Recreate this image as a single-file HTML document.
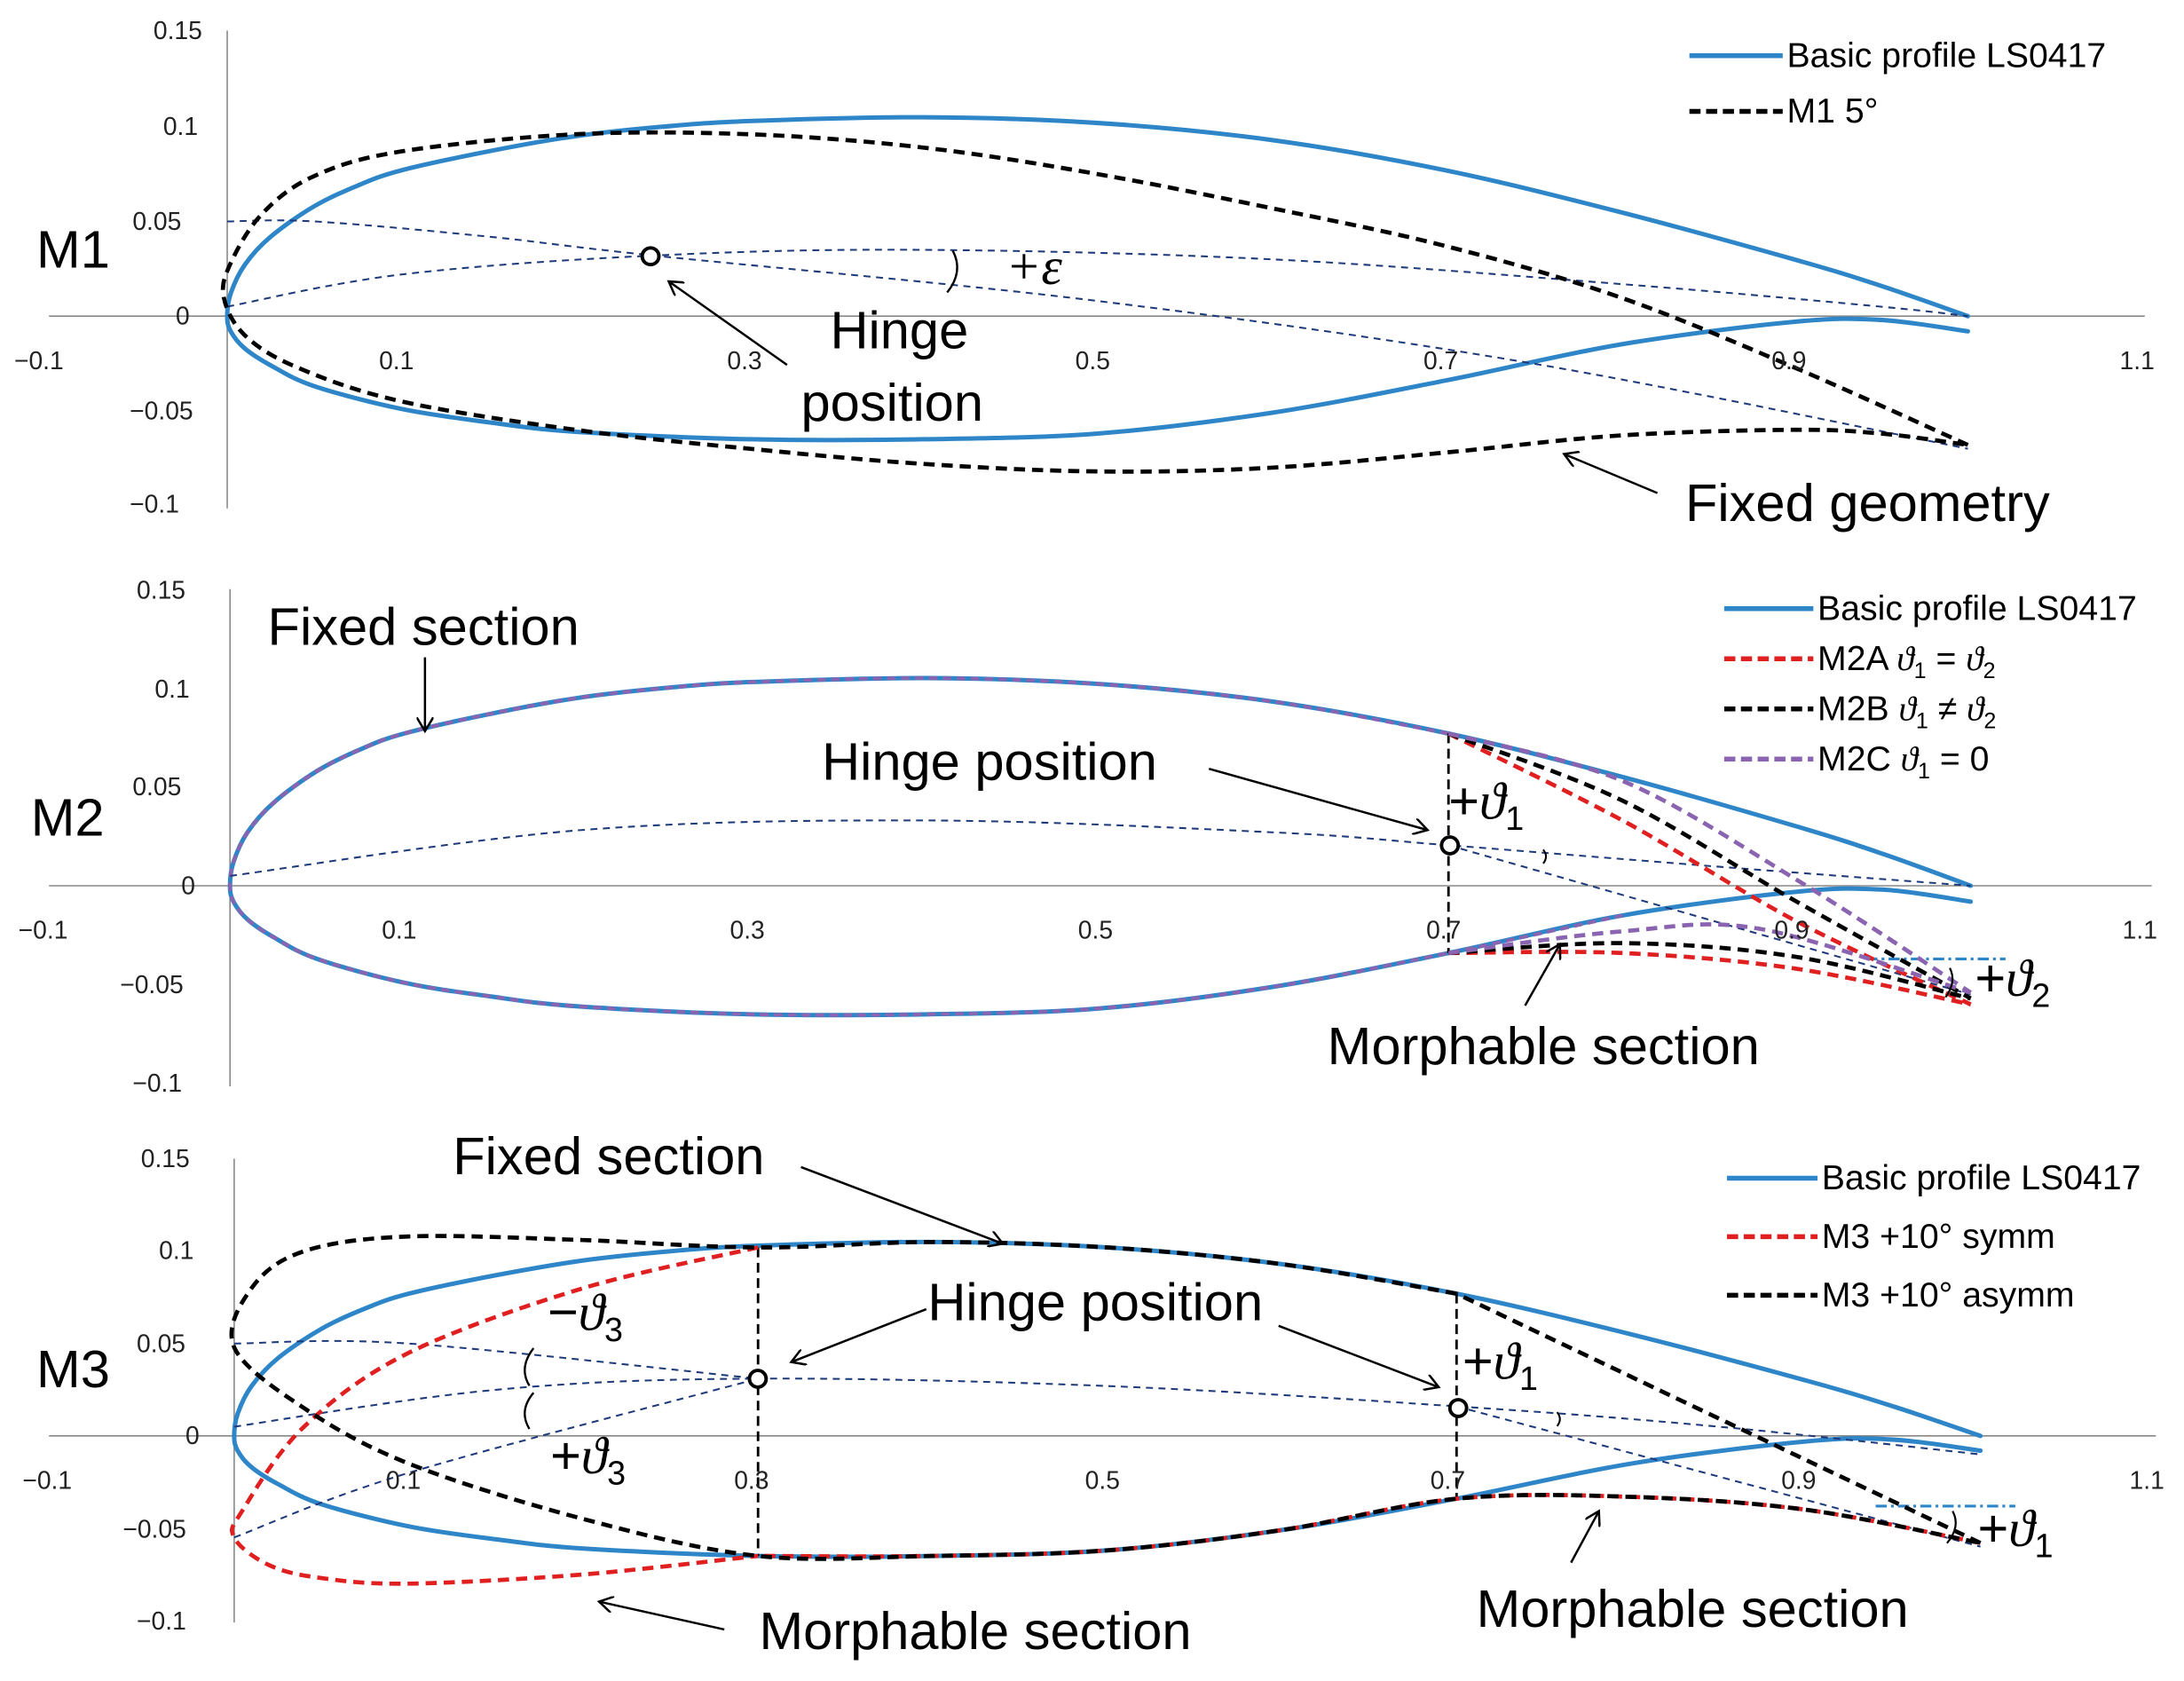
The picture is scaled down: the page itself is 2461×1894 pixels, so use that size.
<!DOCTYPE html>
<html><head><meta charset="utf-8"><style>
html,body{margin:0;padding:0;background:#fff;}
svg{display:block;}
text{font-family:"Liberation Sans",sans-serif;fill:#000;}
.t{font-size:18px;fill:#222;}
.b{font-size:38px;}
.l{font-size:25px;}
.m{font-family:"Liberation Serif",serif;font-style:italic;}
</style></head><body>
<svg id="s" width="2461" height="1894" viewBox="0 0 1568 1207" xmlns="http://www.w3.org/2000/svg">
<defs><marker id="ar" markerWidth="12" markerHeight="12" refX="10" refY="6" orient="auto" markerUnits="userSpaceOnUse"><path d="M0,0 L10,6 L0,12" fill="none" stroke="#000" stroke-width="1.6"/></marker></defs>
<g id="g"></g>
<!-- Panel 1 text -->
<text class="t" x="110" y="28">0.15</text><text class="t" x="117" y="97">0.1</text><text class="t" x="95" y="165">0.05</text><text class="t" x="126" y="233">0</text><text class="t" x="93" y="301">−0.05</text><text class="t" x="93" y="368">−0.1</text>
<text class="t" x="10" y="265">−0.1</text><text class="t" x="272" y="265">0.1</text><text class="t" x="522" y="265">0.3</text><text class="t" x="772" y="265">0.5</text><text class="t" x="1022" y="265">0.7</text><text class="t" x="1272" y="265">0.9</text><text class="t" x="1522" y="265">1.1</text>
<text class="b" x="26" y="192">M1</text>
<text class="b" x="596" y="250">Hinge</text><text class="b" x="575" y="302">position</text>
<text class="b" x="1210" y="374">Fixed geometry</text>
<text class="b m" x="722" y="204">+ε</text>
<text class="l" x="1283" y="48">Basic profile LS0417</text><text class="l" x="1283" y="88">M1 5°</text>
<!-- Panel 2 text -->
<text class="t" x="98" y="430">0.15</text><text class="t" x="111" y="501">0.1</text><text class="t" x="95" y="571">0.05</text><text class="t" x="130" y="642">0</text><text class="t" x="86" y="713">−0.05</text><text class="t" x="95" y="784">−0.1</text>
<text class="t" x="13" y="674">−0.1</text><text class="t" x="274" y="674">0.1</text><text class="t" x="524" y="674">0.3</text><text class="t" x="774" y="674">0.5</text><text class="t" x="1024" y="674">0.7</text><text class="t" x="1274" y="674">0.9</text><text class="t" x="1524" y="674">1.1</text>
<text class="b" x="22" y="600">M2</text>
<text class="b" x="192" y="463">Fixed section</text>
<text class="b" x="590" y="560">Hinge position</text>
<text class="b" x="953" y="764">Morphable section</text>
<text class="b" x="1040" y="588">+<tspan class="m">ϑ</tspan><tspan font-size="24" dy="8">1</tspan></text>
<text class="b" x="1418" y="715">+<tspan class="m">ϑ</tspan><tspan font-size="24" dy="8">2</tspan></text>
<text class="l" x="1305" y="445">Basic profile LS0417</text>
<text class="l" x="1305" y="481">M2A  <tspan class="m">ϑ</tspan><tspan font-size="16" dy="6">1</tspan><tspan dy="-6"> = </tspan><tspan class="m">ϑ</tspan><tspan font-size="16" dy="6">2</tspan></text>
<text class="l" x="1305" y="517">M2B  <tspan class="m">ϑ</tspan><tspan font-size="16" dy="6">1</tspan><tspan dy="-6"> ≠ </tspan><tspan class="m">ϑ</tspan><tspan font-size="16" dy="6">2</tspan></text>
<text class="l" x="1305" y="553">M2C  <tspan class="m">ϑ</tspan><tspan font-size="16" dy="6">1</tspan><tspan dy="-6"> = 0</tspan></text>
<!-- Panel 3 text -->
<text class="t" x="101" y="838">0.15</text><text class="t" x="114" y="904">0.1</text><text class="t" x="98" y="971">0.05</text><text class="t" x="133" y="1037">0</text><text class="t" x="88" y="1104">−0.05</text><text class="t" x="98" y="1170">−0.1</text>
<text class="t" x="16" y="1069">−0.1</text><text class="t" x="277" y="1069">0.1</text><text class="t" x="527" y="1069">0.3</text><text class="t" x="779" y="1069">0.5</text><text class="t" x="1027" y="1069">0.7</text><text class="t" x="1279" y="1069">0.9</text><text class="t" x="1529" y="1069">1.1</text>
<text class="b" x="26" y="996">M3</text>
<text class="b" x="325" y="843">Fixed section</text>
<text class="b" x="666" y="948">Hinge position</text>
<text class="b" x="545" y="1184">Morphable section</text>
<text class="b" x="1060" y="1168">Morphable section</text>
<text class="b" x="393" y="955">−<tspan class="m">ϑ</tspan><tspan font-size="24" dy="8">3</tspan></text>
<text class="b" x="395" y="1058">+<tspan class="m">ϑ</tspan><tspan font-size="24" dy="8">3</tspan></text>
<text class="b" x="1050" y="990">+<tspan class="m">ϑ</tspan><tspan font-size="24" dy="8">1</tspan></text>
<text class="b" x="1420" y="1110">+<tspan class="m">ϑ</tspan><tspan font-size="24" dy="8">1</tspan></text>
<text class="l" x="1308" y="854">Basic profile LS0417</text><text class="l" x="1308" y="896">M3 +10° symm</text><text class="l" x="1308" y="938">M3 +10° asymm</text>
</svg>
<script>
var G=document.getElementById('g');var NS='http://www.w3.org/2000/svg';
function el(t,a){var e=document.createElementNS(NS,t);for(var k in a)e.setAttribute(k,a[k]);G.appendChild(e);return e;}
function cr(p){var d='M'+p[0][0].toFixed(1)+','+p[0][1].toFixed(1);for(var i=0;i<p.length-1;i++){var p0=p[i-1]||p[i],p1=p[i],p2=p[i+1],p3=p[i+2]||p2;d+=' C'+(p1[0]+(p2[0]-p0[0])/6).toFixed(1)+','+(p1[1]+(p2[1]-p0[1])/6).toFixed(1)+' '+(p2[0]-(p3[0]-p1[0])/6).toFixed(1)+','+(p2[1]-(p3[1]-p1[1])/6).toFixed(1)+' '+p2[0].toFixed(1)+','+p2[1].toFixed(1);}return d;}
var P=[{x0:163,sx:1250,y0:227,sy:1360,yt:22,yb:365,xr:1540},{x0:165,sx:1250,y0:636,sy:1420,yt:423,yb:780,xr:1545},{x0:168,sx:1254,y0:1031,sy:1326,yt:832,yb:1165,xr:1548}];
function T(k,pts){var q=P[k];return pts.map(function(a){return[q.x0+a[0]*q.sx,q.y0-a[1]*q.sy];});}
function curve(k,pts,col,w,dash){el('path',{d:cr(T(k,pts)),fill:'none',stroke:col,'stroke-width':w,'stroke-dasharray':dash||'none','stroke-linecap':dash?'butt':'round'});}
function line(k,pts,col,w,dash){var t=T(k,pts);el('polyline',{points:t.map(function(a){return a.join(',')}).join(' '),fill:'none',stroke:col,'stroke-width':w,'stroke-dasharray':dash||'none'});}
P.forEach(function(q){el('line',{x1:35,y1:q.y0,x2:q.xr,y2:q.y0,stroke:'#888','stroke-width':1});el('line',{x1:q.x0,y1:q.yt,x2:q.x0,y2:q.yb,stroke:'#888','stroke-width':1});});
var UP=[[1,0],[0.95,0.016],[0.9,0.03],[0.8,0.055],[0.7,0.077],[0.6,0.093],[0.5,0.102],[0.4,0.105],[0.3,0.103],[0.25,0.1],[0.2,0.095],[0.15,0.087],[0.1,0.077],[0.075,0.069],[0.05,0.058],[0.025,0.042],[0.01,0.027],[0.002,0.012],[0,0]];
var LO=[[0,0],[0.002,-0.008],[0.01,-0.017],[0.025,-0.026],[0.05,-0.037],[0.1,-0.049],[0.15,-0.056],[0.2,-0.061],[0.3,-0.065],[0.4,-0.065],[0.5,-0.062],[0.6,-0.051],[0.7,-0.034],[0.8,-0.015],[0.9,-0.003],[0.95,-0.002],[1,-0.008]];
var AF=UP.concat(LO.slice(1));
var NV='#1f3a7a',BL='#2e86c8',RD='#e02020',PU='#8a64b0';
var nd='5,4';
// ===== Panel 1
curve(0,AF,BL,3.2);
curve(0,[[0,0.005],[0.1,0.022],[0.245,0.032],[0.4,0.035],[0.6,0.03],[0.8,0.017],[0.95,0.005],[1.0,0]],NV,1.3,nd);
curve(0,[[0,0.05],[0.05,0.05],[0.15,0.042],[0.245,0.032],[0.5,0.008],[0.75,-0.025],[1.0,-0.07]],NV,1.3,nd);
curve(0,[[1.0,-0.068],[0.9,-0.027],[0.8,0.01],[0.7,0.037],[0.6,0.057],[0.5,0.075],[0.4,0.089],[0.3,0.096],[0.2,0.096],[0.1,0.087],[0.05,0.074],[0.02,0.054],[0.002,0.028],[-0.002,0.01],[0.01,-0.01],[0.04,-0.027],[0.1,-0.045],[0.2,-0.06],[0.3,-0.07],[0.4,-0.078],[0.5,-0.082],[0.6,-0.08],[0.7,-0.072],[0.8,-0.063],[0.9,-0.06],[0.95,-0.062],[1.0,-0.068]],'#000',3,'8,5');
el('circle',{cx:467,cy:184,r:6,fill:'#fff',stroke:'#000','stroke-width':2.5});
el('line',{x1:565,y1:262,x2:480,y2:202,stroke:'#000','stroke-width':1.6,'marker-end':'url(#ar)'});
el('line',{x1:1190,y1:354,x2:1123,y2:326,stroke:'#000','stroke-width':1.6,'marker-end':'url(#ar)'});
el('path',{d:'M684,180 Q692,195 680,210',fill:'none',stroke:'#000','stroke-width':1.5});
el('line',{x1:1213,y1:40,x2:1280,y2:40,stroke:BL,'stroke-width':3.5});
el('line',{x1:1213,y1:80,x2:1280,y2:80,stroke:'#000','stroke-width':3.5,'stroke-dasharray':'8,4'});
// ===== Panel 2
curve(1,AF,BL,3.2);
curve(1,AF.slice(4,AF.length-3),PU,2.5,'6,4');
curve(1,[[0,0.005],[0.2,0.028],[0.4,0.033],[0.6,0.027],[0.7,0.0205],[0.85,0.01],[1.0,0]],NV,1.3,nd);
line(1,[[0.7,0.0205],[1.0,-0.055]],NV,1.3,nd);
line(1,[[0.94,-0.037],[1.02,-0.037]],BL,2,'8,3,2,3');
line(1,[[0.7,0.077],[0.7,-0.034]],'#000',1.8,'7,4');
curve(1,[[0.7,0.077],[0.8,0.033],[0.9,-0.018],[1.0,-0.06]],RD,3,'8,5');
curve(1,[[0.7,-0.034],[0.8,-0.034],[0.9,-0.042],[1.0,-0.06]],RD,3,'8,5');
curve(1,[[0.7,0.077],[0.8,0.043],[0.9,-0.008],[1.0,-0.057]],'#000',3,'8,5');
curve(1,[[0.7,-0.034],[0.8,-0.029],[0.9,-0.036],[1.0,-0.057]],'#000',3,'8,5');
curve(1,[[0.7,0.077],[0.8,0.053],[0.9,0.003],[1.0,-0.054]],PU,3,'8,5');
curve(1,[[0.7,-0.034],[0.8,-0.023],[0.88,-0.022],[1.0,-0.054]],PU,3,'8,5');
el('circle',{cx:1041,cy:607,r:6,fill:'#fff',stroke:'#000','stroke-width':2.5});
el('line',{x1:868,y1:552,x2:1025,y2:596,stroke:'#000','stroke-width':1.6,'marker-end':'url(#ar)'});
el('line',{x1:305,y1:472,x2:305,y2:525,stroke:'#000','stroke-width':1.6,'marker-end':'url(#ar)'});
el('line',{x1:1095,y1:722,x2:1120,y2:678,stroke:'#000','stroke-width':1.6,'marker-end':'url(#ar)'});
el('path',{d:'M1108,610 Q1112,615 1108,620',fill:'none',stroke:'#000','stroke-width':1.3});
el('path',{d:'M1400,695 Q1405,705 1397,716',fill:'none',stroke:'#000','stroke-width':1.4});
el('line',{x1:1238,y1:437,x2:1302,y2:437,stroke:BL,'stroke-width':3.5});
el('line',{x1:1238,y1:473,x2:1302,y2:473,stroke:RD,'stroke-width':3.5,'stroke-dasharray':'8,4'});
el('line',{x1:1238,y1:509,x2:1302,y2:509,stroke:'#000','stroke-width':3.5,'stroke-dasharray':'8,4'});
el('line',{x1:1238,y1:545,x2:1302,y2:545,stroke:PU,'stroke-width':3.5,'stroke-dasharray':'8,4'});
// ===== Panel 3
curve(2,AF,BL,3.2);
curve(2,[[0,0.005],[0.15,0.025],[0.3,0.031],[0.5,0.027],[0.7,0.016],[0.85,0.005],[1.0,-0.01]],NV,1.3,nd);
line(2,[[0.7,0.016],[1.0,-0.06]],NV,1.3,nd);
curve(2,[[0,0.05],[0.1,0.05],[0.3,0.031]],NV,1.3,nd);
curve(2,[[0,-0.055],[0.1,-0.02],[0.3,0.031]],NV,1.3,nd);
line(2,[[0.94,-0.038],[1.02,-0.038]],BL,2,'8,3,2,3');
line(2,[[0.3,0.102],[0.3,-0.065]],'#000',1.8,'7,4');
line(2,[[0.7,0.077],[0.7,-0.034]],'#000',1.8,'7,4');
curve(2,[[0.3,0.102],[0.2,0.08],[0.1,0.045],[0.04,0.005],[0.005,-0.04],[0,-0.055],[0.02,-0.07],[0.05,-0.077],[0.1,-0.08],[0.2,-0.075],[0.3,-0.065]],RD,3,'8,5');
curve(2,[[1.0,-0.058],[0.9,-0.04],[0.8,-0.033],[0.7,-0.034],[0.6,-0.051],[0.5,-0.062],[0.4,-0.065],[0.3,-0.065]],RD,3,'8,5');
line(2,[[1.0,-0.058],[0.7,0.077]],'#000',3,'8,5');
curve(2,[[0.7,0.077],[0.6,0.093],[0.5,0.102],[0.4,0.105],[0.3,0.102],[0.2,0.106],[0.1,0.108],[0.04,0.1],[0.01,0.08],[0,0.048],[0.04,0.015],[0.1,-0.015],[0.2,-0.045],[0.3,-0.065],[0.4,-0.065],[0.5,-0.062],[0.6,-0.051],[0.7,-0.034],[0.8,-0.033],[0.9,-0.04],[1.0,-0.058]],'#000',3,'8,5');
el('circle',{cx:544,cy:990,r:6,fill:'#fff',stroke:'#000','stroke-width':2.5});
el('circle',{cx:1047,cy:1011,r:6,fill:'#fff',stroke:'#000','stroke-width':2.5});
el('line',{x1:665,y1:940,x2:568,y2:978,stroke:'#000','stroke-width':1.6,'marker-end':'url(#ar)'});
el('line',{x1:918,y1:952,x2:1033,y2:996,stroke:'#000','stroke-width':1.6,'marker-end':'url(#ar)'});
el('line',{x1:575,y1:838,x2:720,y2:893,stroke:'#000','stroke-width':1.6,'marker-end':'url(#ar)'});
el('line',{x1:520,y1:1170,x2:430,y2:1150,stroke:'#000','stroke-width':1.6,'marker-end':'url(#ar)'});
el('line',{x1:1128,y1:1122,x2:1148,y2:1085,stroke:'#000','stroke-width':1.6,'marker-end':'url(#ar)'});
el('path',{d:'M383,968 Q372,982 380,995 M383,1000 Q372,1013 380,1026',fill:'none',stroke:'#000','stroke-width':1.5});
el('path',{d:'M1118,1014 Q1122,1019 1118,1024',fill:'none',stroke:'#000','stroke-width':1.3});
el('path',{d:'M1402,1085 Q1408,1096 1398,1108',fill:'none',stroke:'#000','stroke-width':1.4});
el('line',{x1:1240,y1:846,x2:1305,y2:846,stroke:BL,'stroke-width':3.5});
el('line',{x1:1240,y1:888,x2:1305,y2:888,stroke:RD,'stroke-width':3.5,'stroke-dasharray':'8,4'});
el('line',{x1:1240,y1:930,x2:1305,y2:930,stroke:'#000','stroke-width':3.5,'stroke-dasharray':'8,4'});
</script>
</body></html>
